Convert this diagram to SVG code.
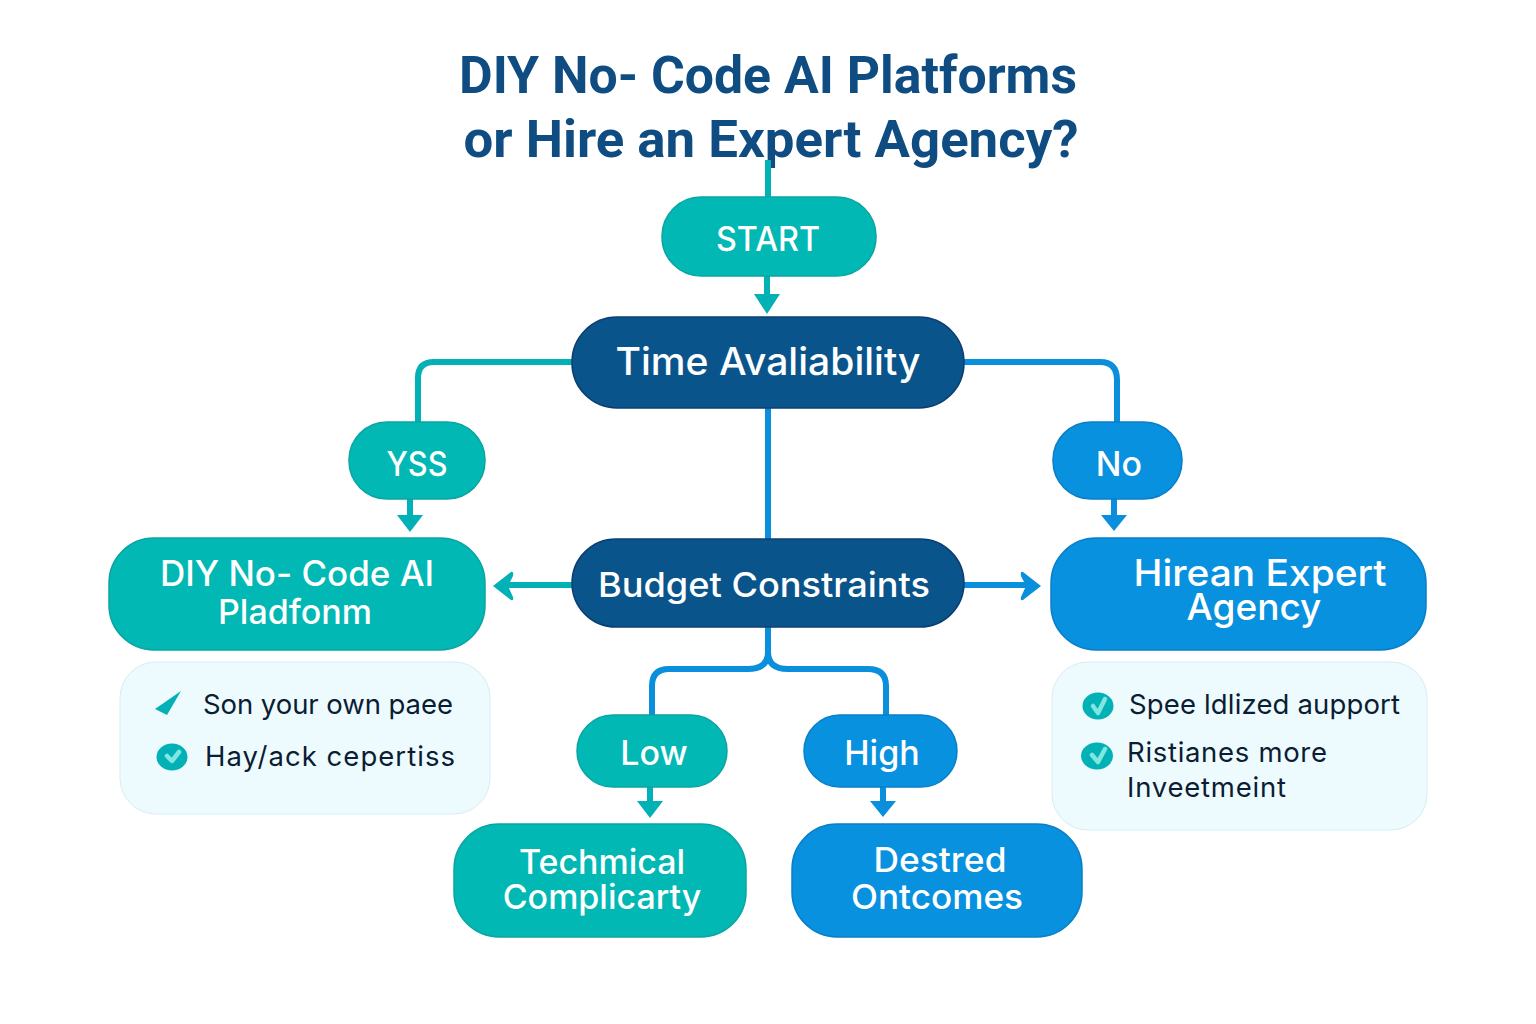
<svg xmlns="http://www.w3.org/2000/svg" width="1536" height="1024" viewBox="0 0 1536 1024">
<style>
text{font-family:"Inter","Noto Sans","Liberation Sans",sans-serif;text-anchor:middle}
.title{font-family:"Roboto","Liberation Sans",sans-serif;font-size:52px;font-weight:700;fill:#0f4c81}
.n{fill:#fff;font-weight:500;font-size:34px}
.teal{fill:#02b8b4;stroke:#0aa5a2;stroke-width:1.5}
.blue{fill:#0891de;stroke:#0a7fc8;stroke-width:1.5}
.navy{fill:#0a548c;stroke:#0b3f73;stroke-width:1.5}
.card{fill:#edfbfe;stroke:#d5eef2;stroke-width:1}
.item{fill:#0b1d33;font-size:27.5px;font-weight:400;text-anchor:start}
.ct{fill:none;stroke:#02b1b5;stroke-width:6}
.cb{fill:none;stroke:#0a8fdc;stroke-width:6}
.at{fill:#02b1b5}.ab{fill:#0a8fdc}
.chk{fill:none;stroke:#7fe6e0;stroke-width:4.5;stroke-linecap:round;stroke-linejoin:round}
</style>
<g id="title">
<text class="title" x="768" y="93" textLength="618" lengthAdjust="spacingAndGlyphs">DIY No- Code AI Platforms</text>
<text class="title" x="771" y="157" textLength="615" lengthAdjust="spacingAndGlyphs">or Hire an Expert  Agency?</text>
</g>
<g id="connectors">
<path class="ct" d="M768 160V198"/>
<path class="ct" d="M767 276V298"/><path class="at" d="M754 294H780L767 314Z"/>
<path class="ct" d="M572 362H434Q418 362 418 378V423"/>
<path class="cb" d="M964 362H1100Q1117 362 1117 380V423"/>
<path class="cb" d="M768 408V539"/>
<path class="ct" d="M410 499V518"/><path class="at" d="M397 515H423L410 532Z"/>
<path class="cb" d="M1114 499V518"/><path class="ab" d="M1101 515H1127L1114 531Z"/>
<path class="ct" d="M572 585H505"/><path class="at" d="M493 586L511 572Q514 571 513 576L508 586L513 597Q514 601 511 600Z"/>
<path class="cb" d="M964 585H1030"/><path class="ab" d="M1041 586L1023 572Q1020 571 1021 576L1026 586L1021 597Q1020 601 1023 600Z"/>
<path class="cb" d="M768 627V652Q768 669 748 669H669Q652 669 652 686V716"/>
<path class="cb" d="M768 652Q768 669 788 669H868Q886 669 886 686V716"/>
<path class="ct" d="M650 787V804"/><path class="at" d="M637 801H663L650 818Z"/>
<path class="cb" d="M883 787V804"/><path class="ab" d="M870 801H896L883 817Z"/>
</g>
<g id="start"><rect class="teal" x="662" y="197" width="214" height="79" rx="39"/><text class="n" x="768" y="251" textLength="104" lengthAdjust="spacingAndGlyphs">START</text></g>
<g id="time"><rect class="navy" x="572" y="317" width="392" height="91" rx="45"/><text class="n" x="768" y="375" style="font-size:38px" textLength="305" lengthAdjust="spacingAndGlyphs">Time Avaliability</text></g>
<g id="yes"><rect class="teal" x="349" y="422" width="136" height="77" rx="38"/><text class="n" x="417" y="476" textLength="61" lengthAdjust="spacingAndGlyphs">YSS</text></g>
<g id="no"><rect class="blue" x="1053" y="422" width="129" height="77" rx="38"/><text class="n" x="1119" y="476">No</text></g>
<g id="diy"><rect class="teal" x="109" y="538" width="376" height="112" rx="45"/>
<text class="n" x="297" y="586" style="font-size:35px" textLength="274">DIY No- Code AI</text><text class="n" x="295" y="624">Pladfonm</text></g>
<g id="budget"><rect class="navy" x="572" y="539" width="392" height="88" rx="44"/><text class="n" x="764" y="597" textLength="332" lengthAdjust="spacingAndGlyphs">Budget Constraints</text></g>
<g id="agency"><rect class="blue" x="1051" y="538" width="375" height="112" rx="45"/>
<text class="n" x="1260" y="586" style="font-size:37px" textLength="253" lengthAdjust="spacingAndGlyphs">Hirean Expert</text><text class="n" x="1254" y="620" style="font-size:37px">Agency</text></g>
<g id="diy-notes"><rect class="card" x="120" y="662" width="370" height="152" rx="36"/>
<path class="at" d="M155 709L181 691L167 715Z"/>
<ellipse class="at" cx="172" cy="757" rx="15.500" ry="13.500"/><path class="chk" d="M167 756L172 761L179 752"/>
<text class="item" x="203" y="714" textLength="250">Son your own paee</text>
<text class="item" x="205" y="766" textLength="250">Hay/ack cepertiss</text></g>
<g id="agency-notes"><rect class="card" x="1052" y="662" width="375" height="168" rx="36"/>
<ellipse class="at" cx="1098" cy="706" rx="15.500" ry="13.500"/><path class="chk" d="M1093 706L1098 713L1105 699"/>
<ellipse class="at" cx="1097" cy="756" rx="16" ry="13.500"/><path class="chk" d="M1092 755L1098 762L1105 749"/>
<text class="item" x="1129" y="714" textLength="271">Spee ldlized aupport</text>
<text class="item" x="1127" y="762" textLength="200">Ristianes more</text>
<text class="item" x="1127" y="797" textLength="159">Inveetmeint</text></g>
<g id="low"><rect class="teal" x="577" y="715" width="150" height="72" rx="36"/><text class="n" x="654" y="765">Low</text></g>
<g id="high"><rect class="blue" x="804" y="715" width="153" height="72" rx="36"/><text class="n" x="882" y="765">High</text></g>
<g id="tech"><rect class="teal" x="454" y="824" width="292" height="113" rx="45"/>
<text class="n" x="602" y="874">Techmical</text><text class="n" x="602" y="909">Complicarty</text></g>
<g id="outcomes"><rect class="blue" x="792" y="824" width="290" height="113" rx="45"/>
<text class="n" x="940" y="872" textLength="133" lengthAdjust="spacingAndGlyphs">Destred</text><text class="n" x="937" y="909" textLength="172" lengthAdjust="spacingAndGlyphs">Ontcomes</text></g>
</svg>
